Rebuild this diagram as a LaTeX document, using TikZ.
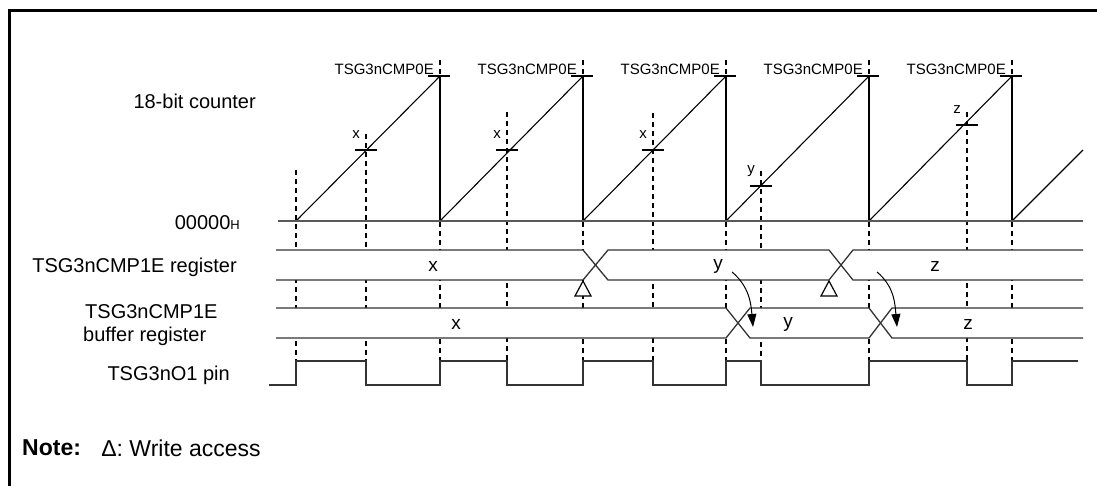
\documentclass[tikz,border=0pt]{standalone}
\usepackage{fontspec}
\setmainfont{Liberation Sans}
\usetikzlibrary{arrows.meta,positioning}

\begin{document}
\begin{tikzpicture}[
  x=1pt, y=-1pt,
  every node/.style={inner sep=0pt, font=\fontsize{20}{23}\selectfont},
  tag/.style={font=\fontsize{15}{17}\selectfont},
  val/.style={font=\fontsize{19}{22}\selectfont},
  guide/.style={line width=2.3pt, dash pattern=on 5pt off 4pt},
  ramp/.style={line width=1.1pt},
  notch/.style={line width=1.3pt},
  wave/.style={line width=1.3pt, black!80},
  axisline/.style={line width=1.5pt, black!65},
  flow/.style={line width=1pt, -{Triangle[length=13pt,width=9pt]}}
]
\useasboundingbox (0,0) rectangle (1097,486);
\draw[line width=3pt] (9,486) -- (9,11) -- (1097,11);

% guide lines
\foreach \gx/\gtop in {296/170,366/134,440/60,507/112,583/60,653/113,726/60,761/171,869/60,967/112,1012/60}
  \draw[guide] (\gx,\gtop) -- (\gx,361);

% counter
\foreach \s/\e in {296/440,440/583,583/726,726/869,869/1012}
  \draw[ramp] (\s,221) -- (\e,76);
\draw[ramp] (1012,221) -- (1083,150);
\foreach \p in {440,583,726,869,1012}{
  \draw[ramp] (\p,76) -- (\p,221);
  \draw[notch] (\p-12,76) -- (\p+10,76);
  \node[tag, anchor=east] (cmp\p) at (\p-6,69) {TSG3nCMP0E};
}
\foreach \cx/\cy/\v in {366/150/x,507/150/x,653/150/x,761/186/y,967/125/z}{
  \draw[notch] (\cx-11,\cy) -- (\cx+11,\cy);
  \node[tag] (hit\cx) at (\cx-10,\cy-15) {\v};
}
\draw[axisline] (278,221) -- (1083,221);

% CMP1E register
\fill[white] (276,250) rectangle (1083,280);
\draw[wave] (276,250) -- (583,250) -- (608,280) -- (829,280) -- (853,250) -- (1083,250);
\draw[wave] (276,280) -- (583,280) -- (608,250) -- (829,250) -- (853,280) -- (1083,280);
\node[val] (regx) at (433,266) {x};
\node[val] (regy) at (718,266) {y};
\node[val] (regz) at (935,266) {z};
\foreach \wx in {583,829}
  \draw[line width=1.2pt, fill=white] (\wx,281) -- (\wx+8,296) -- (\wx-8,296) -- cycle;

% buffer register
\fill[white] (276,308) rectangle (1083,338);
\draw[wave] (276,308) -- (726,308) -- (750,338) -- (869,338) -- (892,308) -- (1083,308);
\draw[wave] (276,338) -- (726,338) -- (750,308) -- (869,308) -- (892,338) -- (1083,338);
\node[val] (bufx) at (456,324) {x};
\node[val] (bufy) at (788,324) {y};
\node[val] (bufz) at (968,324) {z};

% transfer arrows
\coordinate (fromy) at (732,272);
\coordinate (toy) at (753,327);
\coordinate (fromz) at (877,272);
\coordinate (toz) at (897,327);
\draw[flow] (fromy) to[out=-40,in=95] (toy);
\draw[flow] (fromz) to[out=-40,in=95] (toz);

% output pin
\draw[wave] (269,385) -- (296,385) -- (296,361) -- (366,361) -- (366,385)
  -- (440,385) -- (440,361) -- (507,361) -- (507,385) -- (583,385)
  -- (583,361) -- (653,361) -- (653,385) -- (726,385) -- (726,361)
  -- (761,361) -- (761,385) -- (869,385) -- (869,361) -- (967,361)
  -- (967,385) -- (1012,385) -- (1012,361) -- (1078,361);

% row names
\node[anchor=east] (cnt) at (256,101) {18-bit counter};
\node[anchor=east] (zero) at (240,223) {00000{\fontsize{13}{15}\selectfont H}};
\node[anchor=east] (reg) at (237,267) {TSG3nCMP1E register};
\node[anchor=west, align=left] (buf) at (83,325) {\hspace*{2pt}TSG3nCMP1E\\buffer register};
\node[anchor=east] (pin) at (230,375) {TSG3nO1 pin};

% note
\node[anchor=west, font=\fontsize{23}{26}\selectfont\bfseries] (note) at (22,448) {Note:};
\node[right=20pt of note, font=\fontsize{23}{26}\selectfont] (legend) {Δ: Write access};
\end{tikzpicture}
\end{document}
